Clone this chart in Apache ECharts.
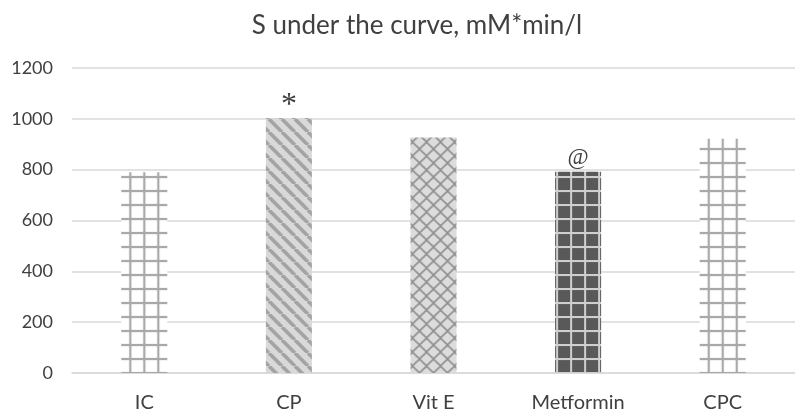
<!DOCTYPE html>
<html><head><meta charset="utf-8">
<script src="https://cdn.jsdelivr.net/npm/echarts@6/dist/echarts.min.js"></script>
<style>html,body{margin:0;padding:0;background:#fff}#c{width:795px;height:419px}</style>
</head><body><div id="c"></div>
<script>
const categories = ['IC', 'CP', 'Vit E', 'Metformin', 'CPC'];
const values = [790, 1003, 927, 792, 922];
const marks = ['', '*', '', '@', ''];
const yTicks = [0, 200, 400, 600, 800, 1000, 1200];

function tile(w, h, draw) {
  const c = document.createElement('canvas');
  c.width = w; c.height = h;
  const g = c.getContext('2d');
  draw(g, w, h);
  return c;
}
const gridTile = (bg, line, lw) => tile(14, 14, (g, w, h) => {
  if (bg) { g.fillStyle = bg; g.fillRect(0, 0, w, h); }
  g.fillStyle = line;
  g.fillRect(7 - lw / 2, 0, lw, h);
  g.fillRect(0, 7 - lw / 2, w, lw);
});
const stripeTile = tile(13, 13, (g, w, h) => {
  g.fillStyle = '#d9d9d9'; g.fillRect(0, 0, w, h);
  g.strokeStyle = '#a3a3a3'; g.lineWidth = 3.6;
  for (const o of [-w, 0, w]) { g.beginPath(); g.moveTo(o, 0); g.lineTo(o + w, h); g.stroke(); }
});
const diamondTile = tile(14, 14, (g, w, h) => {
  g.fillStyle = '#dcdcdc'; g.fillRect(0, 0, w, h);
  g.strokeStyle = '#8f8f8f'; g.lineWidth = 1.6;
  for (const o of [-w, 0, w]) {
    g.beginPath(); g.moveTo(o, 0); g.lineTo(o + w, h); g.stroke();
    g.beginPath(); g.moveTo(o + w, 0); g.lineTo(o, h); g.stroke();
  }
});
const lightGrid = gridTile('#ffffff', '#a9a9a9', 2.2);
const darkGrid = gridTile('#595959', '#cfcfcf', 2);

const patternDefs = [
  [lightGrid, 0], [stripeTile, 0], [diamondTile, 0], [darkGrid, 7], [lightGrid, 0]
];

const chart = echarts.init(document.getElementById('c'));
const font = 'Lato';

function buildOption(centers, y0) {
  return {
    backgroundColor: '#ffffff',
    animation: false,
    title: {
      text: 'S under the curve, mM*min/l',
      left: 412, top: 8, textAlign: 'center',
      textStyle: { fontFamily: font, fontSize: 26, fontWeight: 'normal', color: '#404040' }
    },
    grid: { left: 72, right: -10, top: 68, bottom: 46 },
    xAxis: {
      type: 'category', data: categories,
      axisLine: { lineStyle: { color: '#d9d9d9', width: 1.5 } },
      axisTick: { show: false },
      axisLabel: { fontFamily: font, fontSize: 20, color: '#404040', margin: 20 }
    },
    yAxis: {
      type: 'value', min: yTicks[0], max: yTicks[yTicks.length - 1], interval: yTicks[1] - yTicks[0],
      axisLine: { show: false }, axisTick: { show: false },
      splitLine: { lineStyle: { color: '#d9d9d9', width: 1.5 } },
      axisLabel: { fontFamily: font, fontSize: 18, color: '#404040', margin: 19, formatter: v => String(v) }
    },
    series: [{
      type: 'bar', barWidth: 46,
      data: values.map((v, i) => ({
        value: v,
        itemStyle: {
          color: {
            image: patternDefs[i][0], repeat: 'repeat',
            x: centers ? centers[i] + patternDefs[i][1] - 7 : 0,
            y: y0 != null ? y0 - 7 : 0
          }
        }
      })),
      label: {
        show: true, position: 'top', distance: 2,
        formatter: p => marks[p.dataIndex] === '*' ? '{s|*}' : (marks[p.dataIndex] ? '{a|' + marks[p.dataIndex] + '}' : ''),
        rich: {
          s: { fontFamily: 'Liberation Serif', fontSize: 32, color: '#404040', padding: [0, 0, -6, 0] },
          a: { fontFamily: 'Liberation Serif', fontSize: 23, color: '#404040' }
        }
      }
    }]
  };
}

chart.setOption(buildOption(null, null));
const centers = categories.map(c => chart.convertToPixel({ xAxisIndex: 0 }, c));
const y0 = chart.convertToPixel({ yAxisIndex: 0 }, 0);
chart.setOption(buildOption(centers, y0));
</script>
</body></html>
